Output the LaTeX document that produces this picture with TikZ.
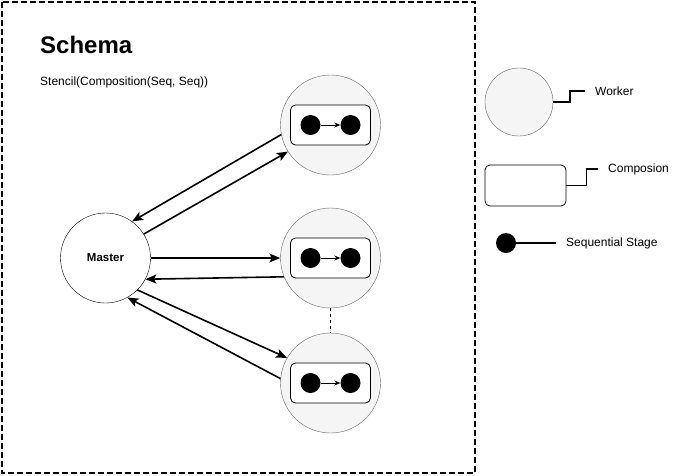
\documentclass[tikz,border=0pt]{standalone}
\usepackage{fontspec}
\setmainfont{Liberation Sans}
\usetikzlibrary{positioning,arrows.meta}

\begin{document}
\begin{tikzpicture}[x=1pt,y=-1pt,
    worker/.style={circle, draw=black!60, fill=black!4, minimum size=100pt, inner sep=0pt},
    master/.style={circle, draw, fill=white, minimum size=90pt, inner sep=0pt, font=\bfseries\fontsize{11.5}{14}\selectfont},
    compo/.style={rectangle, draw, line width=0.8pt, rounded corners=5pt, fill=white, minimum width=80pt, minimum height=40pt, inner sep=0pt},
    stage/.style={circle, fill=black, minimum size=20pt, inner sep=0pt},
    label/.style={anchor=west, inner sep=0pt, font=\fontsize{12}{14}\selectfont},
    link/.style={-{Stealth[length=11pt,width=9pt,inset=2.5pt]}, line width=1.6pt},
    leg/.style={line width=1.6pt}]
    \useasboundingbox (0,0) rectangle (678,475);

    % Schema frame
    \draw[line width=1.6pt, dash pattern=on 6pt off 3pt] (2,2) rectangle (475,473);
    \node[anchor=west, inner sep=0pt, font=\bfseries\fontsize{24}{28}\selectfont] (title) at (40,45) {Schema};
    \node[label] (stencil) at (40,82) {Stencil(Composition(Seq, Seq))};

    % Master and workers
    \node[master] (master) at (105.5,258) {Master};
    \foreach \n/\y in {1/125,2/258,3/383} {
        \node[worker] (w\n) at (330.5,\y) {};
        \node[compo] (c\n) at (330.5,\y) {};
        \node[stage] (s\n a) at (310.5,\y) {};
        \node[stage] (s\n b) at (350.5,\y) {};
        \draw[-{Stealth[length=6pt,width=5pt]}, line width=0.7pt] (s\n a) -- (s\n b);
    }
    \draw[dashed, line width=1.2pt] (w2) -- (w3);

    % Master <-> worker arrows
    \draw[link] (master.32) -- (w1.212);
    \draw[link] (w1.191) -- (master.54);
    \draw[link] (master.0) -- (w2.180);
    \draw[link] (w2.202) -- (master.-28);
    \draw[link] (master.-45) -- (w3.150);
    \draw[link] (w3.175) -- (master.-61);

    % Legend
    \node[worker, minimum size=68pt] (wleg) at (519,102) {};
    \node[label] (wtxt) at (595,91) {Worker};
    \draw[leg] (wleg.east) -- ++(17,0) |- ([xshift=-10pt]wtxt.west);

    \node[compo, minimum width=81pt, minimum height=41pt] (cleg) at (525.5,185.5) {};
    \node[label] (ctxt) at (608,169) {Composion};
    \draw[leg] (cleg.east) -- ++(20,0) |- ([xshift=-10pt]ctxt.west);

    \node[stage] (sleg) at (506,243) {};
    \node[label] (stxt) at (566,243) {Sequential Stage};
    \draw[leg] (sleg.east) -- ([xshift=-10pt]stxt.west);
\end{tikzpicture}
\end{document}
